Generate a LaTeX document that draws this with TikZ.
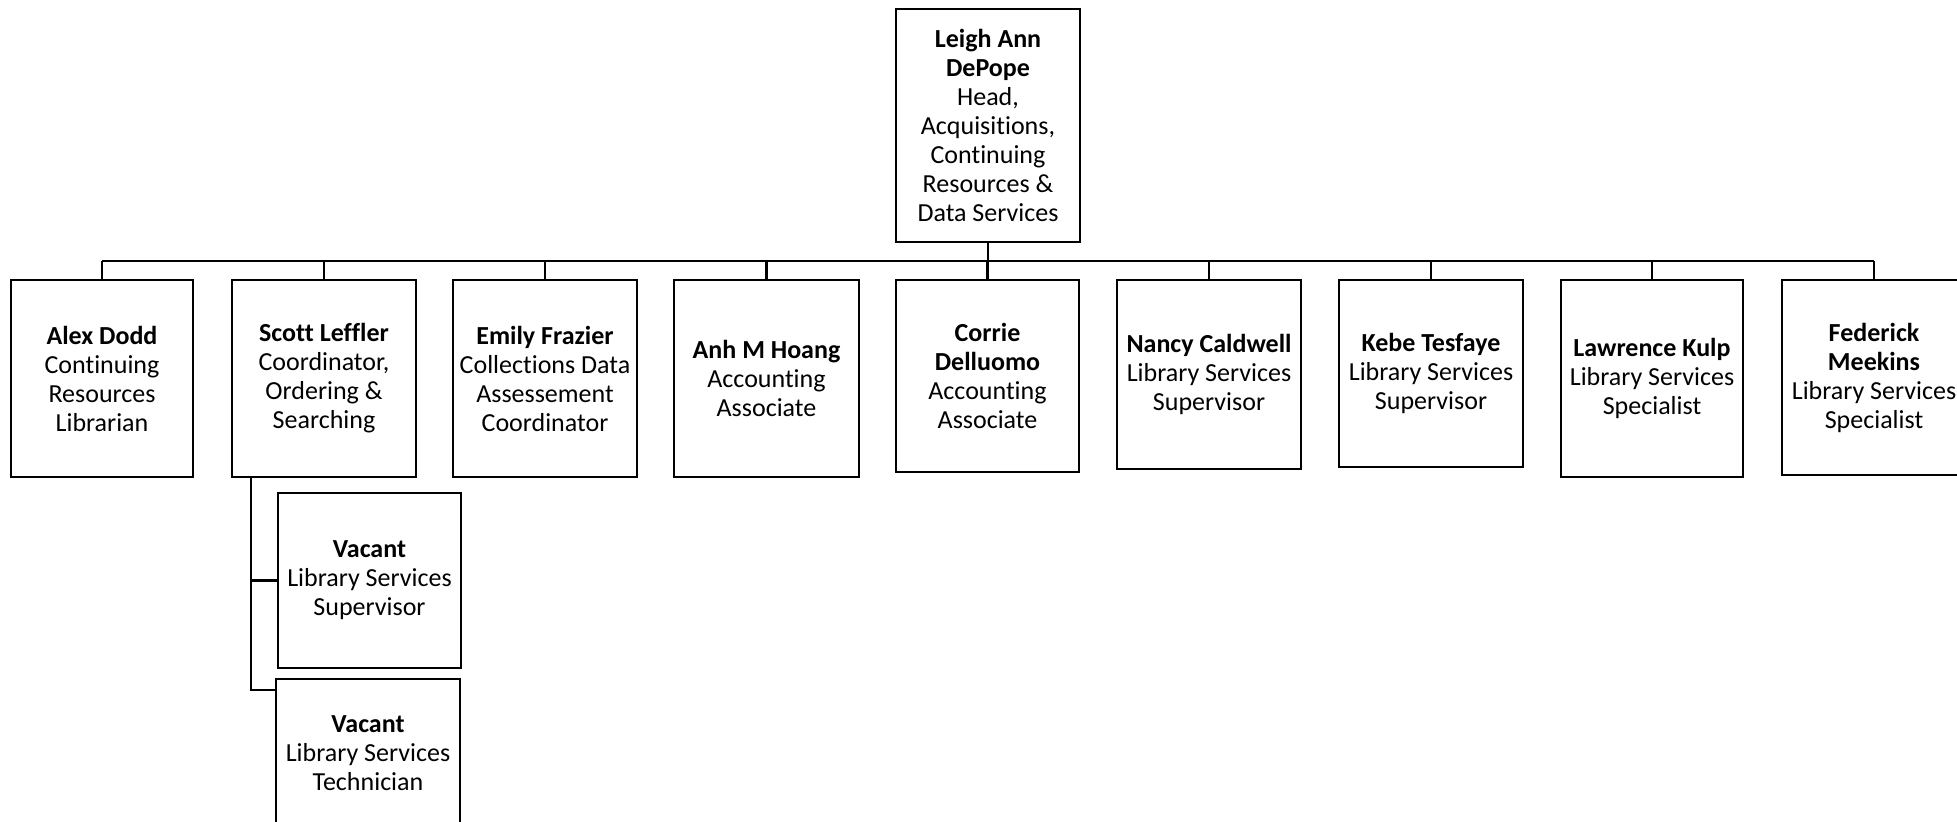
\documentclass[tikz,border=0pt]{standalone}
\usepackage{fontspec}
\setmainfont{Carlito}[Ligatures=NoCommon]
\begin{document}
\begin{tikzpicture}[x=0.5pt,y=-0.5pt,
  box/.style={draw=black, line width=1.25pt, fill=white, align=center, inner sep=1pt,
    font=\fontsize{13}{14.5}\selectfont},
  conn/.style={draw=black, line width=1.4pt}]
\useasboundingbox (0,0) rectangle (1957,821);
\node[box, minimum width=92pt, minimum height=116.5pt] (head) at (988,125.5)
  {\textbf{Leigh Ann}\\\textbf{DePope}\\Head,\\Acquisitions,\\Continuing\\Resources \&\\Data Services};
\node[box, minimum width=91pt, minimum height=98.5pt] (alex) at (102,378.5)
  {\textbf{Alex Dodd}\\Continuing\\Resources\\Librarian};
\node[box, minimum width=92pt, minimum height=98.5pt] (scott) at (324,378.5)
  {\textbf{Scott Leffler}\\Coordinator,\\Ordering \&\\Searching};
\node[box, minimum width=92pt, minimum height=98.5pt] (emily) at (545,378.5)
  {\textbf{Emily Frazier}\\Collections Data\\Assessement\\Coordinator};
\node[box, minimum width=92.5pt, minimum height=98.5pt] (anh) at (766.5,378.5)
  {\textbf{Anh M Hoang}\\Accounting\\Associate};
\node[box, minimum width=91.5pt, minimum height=96pt] (corrie) at (987.5,376)
  {\textbf{Corrie}\\\textbf{Delluomo}\\Accounting\\Associate};
\node[box, minimum width=92pt, minimum height=94.5pt] (nancy) at (1209,374.5)
  {\textbf{Nancy Caldwell}\\Library Services\\Supervisor};
\node[box, minimum width=92pt, minimum height=93.5pt] (kebe) at (1431,373.5)
  {\textbf{Kebe Tesfaye}\\Library Services\\Supervisor};
\node[box, minimum width=91pt, minimum height=98.5pt] (lawrence) at (1652,378.5)
  {\textbf{Lawrence Kulp}\\Library Services\\Specialist};
\node[box, minimum width=92pt, minimum height=97.5pt] (federick) at (1874,377.5)
  {\textbf{Federick}\\\textbf{Meekins}\\Library Services\\Specialist};
\node[box, minimum width=91.5pt, minimum height=87.5pt] (vac1) at (369.5,580.5)
  {\textbf{Vacant}\\Library Services\\Supervisor};
\node[box, minimum width=92pt, minimum height=74pt] (vac2) at (368,753)
  {\textbf{Vacant}\\Library Services\\Technician};
% bus
\coordinate (busL) at (102,261);
\coordinate (busR) at (1874,261);
\coordinate (busM) at (988,261);
\draw[conn] (busL) -- (busR);
\draw[conn] (head.south) -- (busM);
\foreach \n in {alex,scott,emily,anh,corrie,nancy,kebe,lawrence,federick}
  \draw[conn] (\n.north) -- (\n.north |- busM);
% Scott's reports
\coordinate (sdown) at (251,477);
\draw[conn] (sdown) |- (vac1.west);
\draw[conn] (sdown) |- (vac2.west |- 0,690);
\end{tikzpicture}
\end{document}
